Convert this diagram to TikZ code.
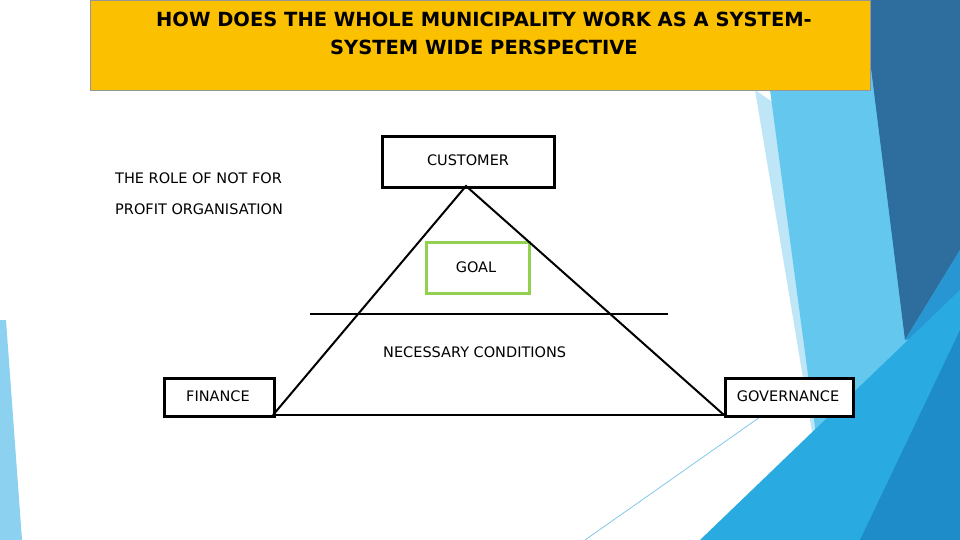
\documentclass[tikz,border=0pt]{standalone}
\usepackage{fontspec}
\setmainfont{DejaVu Sans}
\begin{document}
\begin{tikzpicture}[x=1pt,y=-1pt,
  bx/.style={draw=black,line width=2.6pt,fill=white,inner sep=0pt,anchor=north west},
  lbl/.style={font=\fontsize{14.5}{17}\selectfont,inner sep=0pt},
  ln/.style={line width=2pt}]
\useasboundingbox (0,0) rectangle (960,540);
% decoration
\fill[fill={rgb,255:red,190;green,230;blue,247}] (755,90) -- (830,540) -- (960,540) -- (960,230) -- cycle;
\fill[fill={rgb,255:red,100;green,200;blue,238}] (770,90) -- (870,90) -- (870,20) -- (960,160) -- (960,300) -- (860,540) -- (830,540) -- cycle;
\fill[fill={rgb,255:red,46;green,110;blue,158}] (870,0) -- (960,0) -- (960,250) -- (905,340) -- (870,60) -- cycle;
\fill[fill={rgb,255:red,40;green,150;blue,210}] (905,340) -- (960,250) -- (960,330) -- cycle;
\fill[fill={rgb,255:red,41;green,171;blue,226}] (700,540) -- (960,290) -- (960,540) -- cycle;
\fill[fill={rgb,255:red,30;green,140;blue,200}] (860,540) -- (960,330) -- (960,540) -- cycle;
\fill[fill={rgb,255:red,140;green,210;blue,240}] (0,320) -- (6,320) -- (22,540) -- (0,540) -- cycle;
\draw[color={rgb,255:red,130;green,200;blue,230},line width=0.8pt] (585,540) -- (770,410);
% title
\node[draw={rgb,255:red,150;green,150;blue,150},line width=1pt,fill={rgb,255:red,251;green,192;blue,0},anchor=north west,minimum width=780pt,minimum height=90pt,inner sep=0pt] (title) at (90,0) {};
\node[font=\bfseries\fontsize{19.5}{28}\selectfont,align=center] (tt) at (484,33) {HOW DOES THE WHOLE MUNICIPALITY WORK AS A SYSTEM-\\SYSTEM WIDE PERSPECTIVE};
% boxes
\node[bx,minimum width=172pt,minimum height=51pt] (cust) at (381,135) {};
\node[lbl] at (468,160) {CUSTOMER};
\node[bx,draw={rgb,255:red,146;green,208;blue,80},minimum width=103pt,minimum height=51pt] (goal) at (425,241) {};
\node[lbl] at (476,267) {GOAL};
\node[bx,minimum width=110pt,minimum height=38pt] (fin) at (163,377) {};
\node[lbl] at (218,396) {FINANCE};
\node[bx,minimum width=128pt,minimum height=38pt] (gov) at (724,377) {};
\node[lbl] at (788,396) {GOVERNANCE};
% triangle
\coordinate (apex) at (466,186);
\coordinate (bl) at (273,415);
\coordinate (br) at (724,415);
\draw[ln] (bl) -- (apex) -- (br);
\draw[ln] (bl) -- (br);
\coordinate (h1) at (310,314); \coordinate (h2) at (668,314);
\draw[ln] (h1) -- (h2);
% texts
\node[lbl,anchor=west] (r1) at (115,178) {THE ROLE OF NOT FOR};
\node[lbl,anchor=west] (r2) at (115,209) {PROFIT ORGANISATION};
\node[lbl,anchor=west] (nc) at (383,352) {NECESSARY CONDITIONS};
\end{tikzpicture}
\end{document}
